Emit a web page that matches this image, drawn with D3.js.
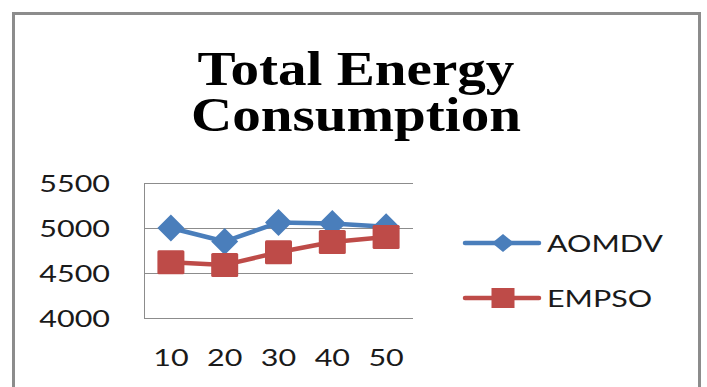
<!DOCTYPE html>
<html>
<head>
<meta charset="utf-8">
<script src="https://cdn.jsdelivr.net/npm/d3@7"></script>
<style>
  html, body { margin: 0; padding: 0; background: #fff; }
  svg { display: block; }
</style>
</head>
<body>
<svg id="chart" width="707" height="387"></svg>
<script>
// Node counts along the x axis
const categories = ["10", "20", "30", "40", "50"];
// Total energy consumed per protocol
const aomdv = [5000, 4850, 5060, 5050, 5015];
const empso = [4620, 4590, 4730, 4845, 4900];
const yTicks = [4000, 4500, 5000, 5500];
const seriesNames = ["AOMDV", "EMPSO"];
const titleLines = ["Total Energy", "Consumption"];

const blue = "#4a7ebb";
const red = "#be4b48";
const grid = "#8c8c8c";
const labelFont = "Lato, 'Open Sans', sans-serif";
const stretch = 1.27;   // wide lettering used throughout

const svg = d3.select("#chart");

// Frame around the chart (open at the bottom)
svg.append("path")
  .attr("d", "M13.5,392 V13.5 H699.5 V392")
  .attr("fill", "none")
  .attr("stroke", grid)
  .attr("stroke-width", 3);

// Title
const title = svg.append("g").attr("transform", "translate(356,0) scale(1.19,1)");
title.selectAll("text").data(titleLines).join("text")
  .attr("x", 0)
  .attr("y", (d, i) => 85 + i * 46)
  .attr("text-anchor", "middle")
  .attr("font-family", "'Liberation Serif', 'Times New Roman', serif")
  .attr("font-weight", "bold")
  .attr("font-size", 48)
  .attr("fill", "#000")
  .text(d => d);

// Scales
const x = d3.scaleBand().domain(categories).range([144, 413]);
const y = d3.scaleLinear().domain([4000, 5500]).range([318, 183]);
const cx = d => x(d) + x.bandwidth() / 2;

// Gridlines
svg.append("g").selectAll("line").data(yTicks).join("line")
  .attr("x1", 144).attr("x2", 413)
  .attr("y1", d => Math.round(y(d)) + 0.5).attr("y2", d => Math.round(y(d)) + 0.5)
  .attr("stroke", grid).attr("stroke-width", 1);
// Vertical axis line
svg.append("line")
  .attr("x1", 144.5).attr("x2", 144.5)
  .attr("y1", y(5500)).attr("y2", y(4000) + 0.5)
  .attr("stroke", grid).attr("stroke-width", 1);

// Y tick labels
svg.append("g").selectAll("g").data(yTicks).join("g")
  .attr("transform", d => `translate(110,${y(d)}) scale(${stretch},1)`)
  .append("text")
  .attr("text-anchor", "end")
  .attr("dy", "0.36em")
  .attr("font-family", labelFont)
  .attr("font-size", 24)
  .attr("fill", "#1a1a1a")
  .text(d => d);

// X tick labels
svg.append("g").selectAll("g").data(categories).join("g")
  .attr("transform", d => `translate(${cx(d)},366) scale(${stretch},1)`)
  .append("text")
  .attr("text-anchor", "middle")
  .attr("font-family", labelFont)
  .attr("font-size", 24)
  .attr("fill", "#1a1a1a")
  .text(d => d);

const line = d3.line().x((d, i) => cx(categories[i])).y(d => y(d));

// AOMDV series: line with diamonds
svg.append("path").datum(aomdv)
  .attr("d", line)
  .attr("fill", "none").attr("stroke", blue)
  .attr("stroke-width", 4.5).attr("stroke-linejoin", "round");
const diamond = (s) => `M0,${-s} L${s},0 L0,${s} L${-s},0 Z`;
svg.append("g").selectAll("path").data(aomdv).join("path")
  .attr("transform", (d, i) => `translate(${cx(categories[i])},${y(d)})`)
  .attr("d", diamond(13.5))
  .attr("fill", blue);

// EMPSO series: line with squares
svg.append("path").datum(empso)
  .attr("d", line)
  .attr("fill", "none").attr("stroke", red)
  .attr("stroke-width", 4.5).attr("stroke-linejoin", "round");
svg.append("g").selectAll("rect").data(empso).join("rect")
  .attr("x", (d, i) => cx(categories[i]) - 13.5)
  .attr("y", d => y(d) - 12)
  .attr("width", 27).attr("height", 24)
  .attr("rx", 1.5)
  .attr("fill", red);

// Legend
const legend = svg.append("g");
const legendY = [243, 298];
const colors = [blue, red];
seriesNames.forEach((name, i) => {
  const g = legend.append("g").attr("transform", `translate(0,${legendY[i]})`);
  g.append("line").attr("x1", 465).attr("x2", 539).attr("y1", 0).attr("y2", 0)
    .attr("stroke", colors[i]).attr("stroke-width", 4.5).attr("stroke-linecap", "round");
  if (i === 0) {
    g.append("path").attr("transform", "translate(503,0) scale(1.1,0.9)")
      .attr("d", diamond(10)).attr("fill", colors[i]);
  } else {
    g.append("rect").attr("x", 491.5).attr("y", -10).attr("width", 23).attr("height", 20)
      .attr("fill", colors[i]);
  }
  g.append("g").attr("transform", `translate(547,0) scale(${stretch},1)`)
    .append("text")
    .attr("dy", "0.36em")
    .attr("font-family", labelFont)
    .attr("font-size", 24)
    .attr("fill", "#1a1a1a")
    .text(name);
});
</script>
</body>
</html>
